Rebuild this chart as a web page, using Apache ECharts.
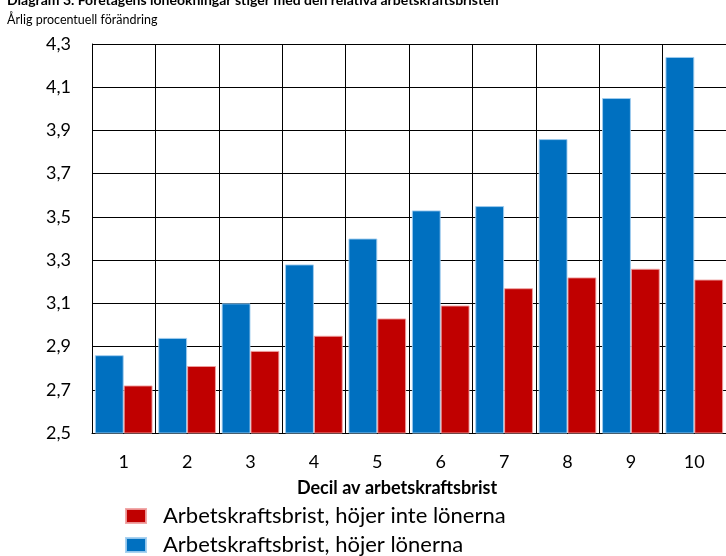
<!DOCTYPE html>
<html>
<head>
<meta charset="utf-8">
<script src="https://cdn.jsdelivr.net/npm/echarts@6/dist/echarts.min.js"></script>
<style>
  html, body { margin: 0; padding: 0; background: #fff; }
  #chart { width: 726px; height: 556px; }
</style>
</head>
<body>
<div id="chart"></div>
<script>
// Deciles of relative labour shortage
const deciles = ['1', '2', '3', '4', '5', '6', '7', '8', '9', '10'];
// Annual wage growth (%) by decile
const raisesWages = [2.86, 2.94, 3.10, 3.28, 3.40, 3.53, 3.55, 3.86, 4.05, 4.24];
const noWageRaise = [2.72, 2.81, 2.88, 2.95, 3.03, 3.09, 3.17, 3.22, 3.26, 3.21];
const yTicks = ['2,5', '2,7', '2,9', '3,1', '3,3', '3,5', '3,7', '3,9', '4,1', '4,3'];

const FONT = 'Lato, "Open Sans", sans-serif';
const chart = echarts.init(document.getElementById('chart'));

chart.setOption({
  animation: false,
  textStyle: { fontFamily: FONT },
  title: [
    {
      text: 'Diagram 3. Företagens löneökningar stiger med den relativa arbetskraftsbristen',
      left: 7, top: -7, padding: 0,
      textStyle: { fontFamily: FONT, fontSize: 14, fontWeight: 'bold', color: '#000' }
    },
    {
      text: 'Årlig procentuell förändring',
      left: 7, top: 13, padding: 0,
      textStyle: { fontFamily: FONT, fontSize: 12.5, fontWeight: 'normal', color: '#000' }
    }
  ],
  legend: {
    orient: 'vertical',
    left: 125, top: 505, height: 60, padding: 0,
    itemWidth: 20, itemHeight: 14, itemGap: 7,
    icon: 'rect',
    data: ['Arbetskraftsbrist, höjer inte lönerna', 'Arbetskraftsbrist, höjer lönerna'],
    textStyle: { fontFamily: FONT, fontSize: 22, lineHeight: 22, color: '#000', padding: [0, 0, 0, 12] }
  },
  grid: { left: 92, top: 44, right: -7, bottom: 123, containLabel: false },
  xAxis: {
    type: 'category',
    data: deciles,
    axisLine: { show: true, lineStyle: { color: '#000', width: 1 } },
    axisTick: { show: false },
    splitLine: { show: true, lineStyle: { color: '#000', width: 1 } },
    axisLabel: { fontFamily: FONT, fontSize: 18, color: '#000', margin: 20 },
    name: 'Decil av arbetskraftsbrist',
    nameLocation: 'middle',
    nameGap: 46,
    nameTextStyle: { fontFamily: FONT, fontSize: 18, fontWeight: 'bold', color: '#000', padding: [0, 24, 0, 0] }
  },
  yAxis: {
    type: 'value',
    min: 2.5, max: 4.3, interval: 0.2,
    axisLine: { show: true, lineStyle: { color: '#000', width: 1 } },
    axisTick: { show: false },
    splitLine: { show: true, lineStyle: { color: '#000', width: 1 } },
    axisLabel: {
      fontFamily: FONT, fontSize: 18, color: '#000', margin: 21,
      formatter: (v) => yTicks[Math.round((v - 2.5) / 0.2)]
    }
  },
  series: [
    {
      name: 'Arbetskraftsbrist, höjer lönerna',
      type: 'bar',
      data: raisesWages,
      barGap: '0%',
      barCategoryGap: '9%',
      itemStyle: { color: '#0070C0', borderColor: 'rgba(160,205,240,0.9)', borderWidth: 1 }
    },
    {
      name: 'Arbetskraftsbrist, höjer inte lönerna',
      type: 'bar',
      data: noWageRaise,
      itemStyle: { color: '#C00000', borderColor: 'rgba(240,160,160,0.9)', borderWidth: 1 }
    }
  ]
});
</script>
</body>
</html>
